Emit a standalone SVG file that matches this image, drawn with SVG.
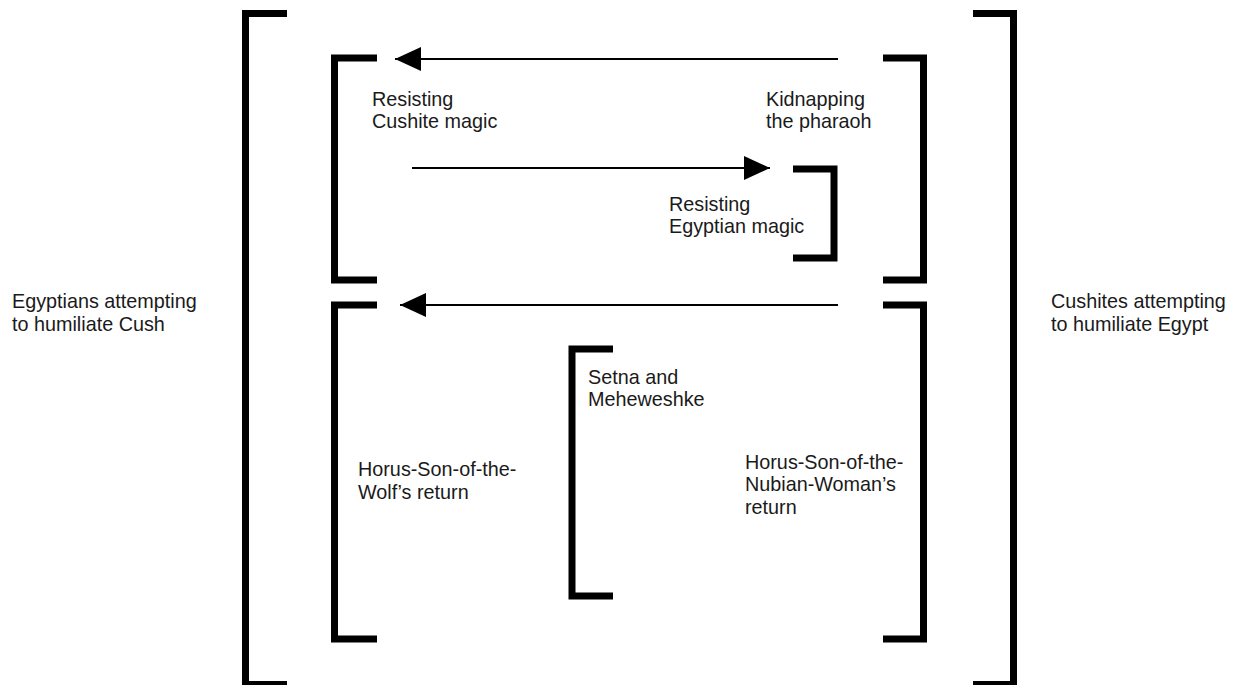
<svg xmlns="http://www.w3.org/2000/svg" width="1239" height="685" viewBox="0 0 1239 685">
<defs>
<style>
.b{fill:none;stroke:#000;stroke-width:7;stroke-linecap:butt;stroke-linejoin:miter}
.c{fill:none;stroke:#000;stroke-width:2}
.t{font-family:"Liberation Sans",Arial,sans-serif;font-size:19.8px;fill:#1a1a1a}
</style>
<marker id="ah" markerWidth="26" markerHeight="24" viewBox="0 0 26 24" refX="26" refY="12" orient="auto" markerUnits="userSpaceOnUse">
<path d="M0,0 L26,12 L0,24 Z" fill="#000"/>
</marker>
</defs>
<rect width="1239" height="685" fill="#fff"/>
<g id="egyptians">
<path class="b" d="M287,13.5 H245.5 V684.5 H287"/>
<text class="t" x="12" y="308">Egyptians attempting</text>
<text class="t" x="12" y="331">to humiliate Cush</text>
</g>
<g id="cushites">
<path class="b" d="M973,13.5 H1013.5 V684.5 H973"/>
<text class="t" x="1051" y="308">Cushites attempting</text>
<text class="t" x="1051" y="331">to humiliate Egypt</text>
</g>
<g id="resisting-cushite">
<path class="b" d="M377,58 H334.5 V280 H377"/>
<text class="t" x="372" y="106">Resisting</text>
<text class="t" x="372" y="128">Cushite magic</text>
</g>
<g id="kidnapping">
<path class="b" d="M883,58 H923.5 V280 H883"/>
<text class="t" x="766" y="106">Kidnapping</text>
<text class="t" x="766" y="128">the pharaoh</text>
</g>
<g id="resisting-egyptian">
<path class="b" d="M793,169 H834 V258 H793"/>
<text class="t" x="669" y="211">Resisting</text>
<text class="t" x="669" y="233">Egyptian magic</text>
</g>
<g id="horus-wolf">
<path class="b" d="M377,305 H334.5 V639 H377"/>
<text class="t" x="358" y="476">Horus-Son-of-the-</text>
<text class="t" x="358" y="499">Wolf’s return</text>
</g>
<g id="horus-nubian">
<path class="b" d="M883,305 H923.5 V639 H883"/>
<text class="t" x="745" y="469">Horus-Son-of-the-</text>
<text class="t" x="745" y="491">Nubian-Woman’s</text>
<text class="t" x="745" y="514">return</text>
</g>
<g id="setna">
<path class="b" d="M613,349 H572 V596 H613"/>
<text class="t" x="588" y="384">Setna and</text>
<text class="t" x="588" y="406">Meheweshke</text>
</g>
<g id="connectors">
<line class="c" x1="838" y1="59" x2="395" y2="59" marker-end="url(#ah)"/>
<line class="c" x1="412" y1="168" x2="770" y2="168" marker-end="url(#ah)"/>
<line class="c" x1="838" y1="305" x2="400" y2="305" marker-end="url(#ah)"/>
</g>
</svg>
